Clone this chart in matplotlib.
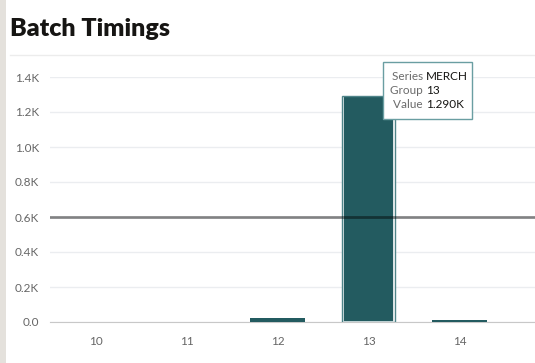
"""
Batch Timings bar chart with a reference line and a hover tooltip.
"""

import matplotlib
matplotlib.use("Agg")
import matplotlib.pyplot as plt
import matplotlib.ticker as mticker
from matplotlib.patches import Rectangle

groups = ["10", "11", "12", "13", "14"]
merch = [0, 0, 22, 1290, 10]
ref_value = 600
y_ticks = [0, 200, 400, 600, 800, 1000, 1200, 1400]
selected = "13"

BAR = "#235b60"
GRID = "#ebedf0"
TICK = "#666666"
STRIPE = "#e4e1dc"

plt.rcParams["font.family"] = ["Lato", "DejaVu Sans"]

fig = plt.figure(figsize=(5.35, 3.63), dpi=100)
fig.patch.set_facecolor("white")

# left beige stripe
fig.add_artist(Rectangle((0, 0), 6 / 535, 1, transform=fig.transFigure,
                         facecolor=STRIPE, edgecolor="none"))
fig.text(10 / 535, 1 - 29 / 363, "Batch Timings", fontsize=18, fontweight="heavy",
         color="#161513", va="center", ha="left")
fig.add_artist(plt.Line2D([10 / 535, 1], [1 - 55 / 363] * 2, transform=fig.transFigure,
                          color="#ececec", linewidth=1))

ax = fig.add_axes([50 / 535, 1 - 322 / 363, 485 / 535, 245 / 363])
x = list(range(len(groups)))
sel = groups.index(selected)
others = [i for i in x if i != sel]
ax.bar(others, [merch[i] for i in others], width=0.6, color=BAR, linewidth=0, zorder=3)
# selected group: white inner ring plus teal outline
ax.bar([sel], [merch[sel]], width=0.55, color=BAR, edgecolor="white", linewidth=1.2, zorder=3)
ax.bar([sel], [merch[sel]], width=0.59, color="none", edgecolor="#4f8489",
       linewidth=1.0, zorder=4)

ax.axhline(ref_value, color="black", linewidth=2, alpha=0.45, zorder=5)

ax.set_xlim(-0.5, 4.83)
ax.set_ylim(0, 1400)
ax.set_yticks(y_ticks)
ax.yaxis.set_major_formatter(mticker.FuncFormatter(
    lambda v, _: "0.0" if v == 0 else f"{v / 1000:.1f}K"))
ax.set_xticks(x)
ax.set_xticklabels(groups)
ax.grid(axis="y", color=GRID, linewidth=1, zorder=0)
ax.set_axisbelow(True)
for s in ["top", "right", "left"]:
    ax.spines[s].set_visible(False)
ax.spines["bottom"].set_color("#c8c8c8")
ax.tick_params(axis="both", length=0, colors=TICK, labelsize=8.5)
ax.tick_params(axis="y", pad=8)
ax.tick_params(axis="x", pad=10)

# tooltip
fig.add_artist(Rectangle((383 / 535, 1 - 119 / 363), 89 / 535, 57 / 363,
                         transform=fig.transFigure, facecolor="white",
                         edgecolor="#6a9ea2", linewidth=1, zorder=10))
rows = [("Series", "MERCH"), ("Group", groups[sel]), ("Value", f"{merch[sel] / 1000:.3f}K")]
for i, (k, v) in enumerate(rows):
    yy = 1 - (76 + i * 14.5) / 363
    fig.text(426 / 535, yy, k + " ", fontsize=8.5, color="#6b6b6b", ha="right",
             va="center", zorder=11)
    fig.text(426 / 535, yy, v, fontsize=8.5, color="#161513", ha="left",
             va="center", zorder=11)

fig.savefig("out.png", dpi=100, facecolor="white")
